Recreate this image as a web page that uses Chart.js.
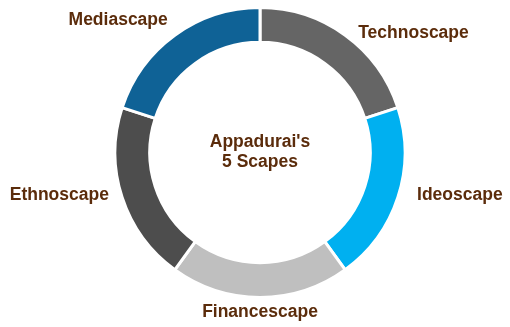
<!DOCTYPE html>
<html>
<head>
<meta charset="utf-8">
<title>Appadurai's 5 Scapes</title>
<script src="https://cdn.jsdelivr.net/npm/chart.js@4/dist/chart.umd.min.js"></script>
<style>
  html, body { margin: 0; padding: 0; background: #ffffff; }
  #wrap { width: 510px; height: 327px; }
</style>
</head>
<body>
<div id="wrap"><canvas id="scapes" width="510" height="327"></canvas></div>
<script>
    "use strict";

    // Five scapes, equal share each, clockwise from the top
    var scapeNames = ["Technoscape", "Ideoscape", "Financescape", "Ethnoscape", "Mediascape"];
    var scapeShares = [1, 1, 1, 1, 1];
    var scapeColors = ["#656565", "#00B0F0", "#BFBFBF", "#4D4D4D", "#0F6296"];
    var centerLines = ["Appadurai's", "5 Scapes"];

    var labelFont = "bold 17.5px 'Liberation Sans', Arial, sans-serif";
    var labelColor = "#5B2C0B";

    // Labels outside the ring, placed along each arc's middle angle
    var outerLabels = {
        id: "outerLabels",
        afterDatasetsDraw: function (chart) {
            var ctx = chart.ctx;
            var arcs = chart.getDatasetMeta(0).data;
            ctx.save();
            ctx.font = labelFont;
            ctx.fillStyle = labelColor;
            ctx.textBaseline = "middle";
            arcs.forEach(function (arc, i) {
                var p = arc.getProps(["x", "y", "startAngle", "endAngle", "outerRadius"], true);
                var mid = (p.startAngle + p.endAngle) / 2;
                var r = p.outerRadius + 17;
                var cx = Math.cos(mid), cy = Math.sin(mid);
                var lx = p.x + cx * r;
                var ly = p.y + cy * r;
                if (Math.abs(cx) < 0.2) {
                    ctx.textAlign = "center";
                    ly -= 2;
                } else {
                    ctx.textAlign = cx > 0 ? "left" : "right";
                    lx += 3;
                    if (cy > 0.2) {
                        ly -= 7;
                    } else if (cx > 0) {
                        ly += 12;   // upper right sits a bit lower
                    } else {
                        ly -= 1;
                    }
                }
                ctx.fillText(scapeNames[i], lx, ly);
            });
            ctx.restore();
        }
    };

    // Title in the hole of the doughnut
    var centerTitle = {
        id: "centerTitle",
        afterDatasetsDraw: function (chart) {
            var ctx = chart.ctx;
            var arc = chart.getDatasetMeta(0).data[0];
            ctx.save();
            ctx.font = labelFont;
            ctx.fillStyle = labelColor;
            ctx.textAlign = "center";
            ctx.textBaseline = "middle";
            var lineH = 20;
            var top = arc.y - (centerLines.length - 1) * lineH / 2;
            centerLines.forEach(function (line, i) {
                ctx.fillText(line, arc.x, top + i * lineH);
            });
            ctx.restore();
        }
    };

    var ctx1 = document.getElementById("scapes").getContext("2d");
    var scapesChart = new Chart(ctx1, {
        type: "doughnut",
        data: {
            labels: scapeNames,
            datasets: [{
                data: scapeShares,
                backgroundColor: scapeColors,
                borderColor: "#ffffff",
                borderWidth: 3,
                hoverOffset: 0
            }]
        },
        options: {
            responsive: false,
            animation: false,
            cutout: "76%",
            rotation: 0,
            layout: {
                padding: { left: 10, right: 0, top: 6, bottom: 28 }
            },
            plugins: {
                legend: { display: false },
                tooltip: { enabled: false }
            }
        },
        plugins: [outerLabels, centerTitle]
    });
</script>
</body>
</html>
